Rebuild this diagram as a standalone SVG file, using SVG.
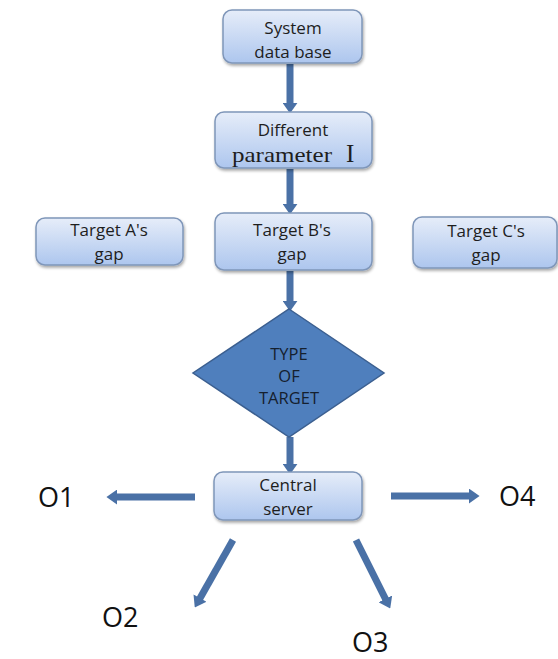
<svg xmlns="http://www.w3.org/2000/svg" width="558" height="659" viewBox="0 0 558 659">
<style>
.box{fill:url(#g);stroke:#7f96b9;stroke-width:1.5;filter:url(#sh)}
.t{font-family:"Open Sans","Liberation Sans",sans-serif;font-size:17px;fill:#1e1e1e;text-anchor:middle}
.dt{font-family:"Open Sans","Liberation Sans",sans-serif;font-size:16.5px;fill:#15202e;text-anchor:middle}
.o{font-family:"Open Sans","Liberation Sans",sans-serif;font-size:27px;fill:#111}
.c line{stroke:#4a71a6;stroke-width:7;marker-end:url(#ah)}
</style>
<defs>
<linearGradient id="g" x1="0" y1="0" x2="0" y2="1">
<stop offset="0" stop-color="#e6edf9"/>
<stop offset="1" stop-color="#adc6ee"/>
</linearGradient>
<filter id="sh" x="-10%" y="-10%" width="130%" height="140%">
<feDropShadow dx="1" dy="2" stdDeviation="1.5" flood-color="#000" flood-opacity="0.35"/>
</filter>
<marker id="ah" viewBox="0 0 10 14" refX="2" refY="7" markerWidth="11" markerHeight="15" markerUnits="userSpaceOnUse" orient="auto">
<path d="M0,0 L10,7 L0,14 z" fill="#4a71a6"/>
</marker>
</defs>
<g class="c" id="connectors">
<line x1="290" y1="64" x2="290" y2="105"/>
<line x1="290" y1="169" x2="290" y2="206"/>
<line x1="290" y1="271" x2="290" y2="303"/>
<line x1="290" y1="437" x2="290" y2="466"/>
<line x1="195" y1="497" x2="115" y2="497"/>
<line x1="391" y1="496" x2="471" y2="496"/>
<line x1="233" y1="540" x2="199" y2="600"/>
<line x1="356" y1="540" x2="386.4" y2="600.8"/>
</g>
<g id="db">
<rect class="box" x="223" y="10" width="139" height="53" rx="9"/>
<text class="t" x="293" y="34">System</text>
<text class="t" x="293" y="58">data base</text>
</g>
<g id="param">
<rect class="box" x="215" y="112" width="157" height="56" rx="9"/>
<text class="t" x="293" y="136">Different</text>
<text x="232" y="162" font-family="Liberation Serif,serif" font-size="21" fill="#1e1e1e" textLength="100" lengthAdjust="spacingAndGlyphs">parameter</text>
<text x="346" y="162" font-family="Liberation Serif,serif" font-size="25" fill="#1e1e1e">I</text>
</g>
<g id="targetA">
<rect class="box" x="36" y="218" width="147" height="47" rx="9"/>
<text class="t" x="109" y="236">Target A's</text>
<text class="t" x="109" y="260">gap</text>
</g>
<g id="targetB">
<rect class="box" x="215" y="213" width="157" height="57" rx="9"/>
<text class="t" x="292" y="236">Target B's</text>
<text class="t" x="292" y="260">gap</text>
</g>
<g id="targetC">
<rect class="box" x="413" y="217" width="144" height="51" rx="9"/>
<text class="t" x="486" y="237">Target C's</text>
<text class="t" x="486" y="261">gap</text>
</g>
<g id="type">
<polygon points="289,309 384,373 289,437 193,373" fill="#4f7fbd" stroke="#3b5f90" stroke-width="1.5"/>
<text class="dt" x="289" y="360">TYPE</text>
<text class="dt" x="289" y="382">OF</text>
<text class="dt" x="289" y="404">TARGET</text>
</g>
<g id="server">
<rect class="box" x="214" y="472" width="148" height="48" rx="9"/>
<text class="t" x="288" y="491">Central</text>
<text class="t" x="288" y="515">server</text>
</g>
<g id="outputs">
<text class="o" x="38" y="507">O1</text>
<text class="o" x="102" y="627">O2</text>
<text class="o" x="352" y="652">O3</text>
<text class="o" x="499" y="506">O4</text>
</g>
</svg>
